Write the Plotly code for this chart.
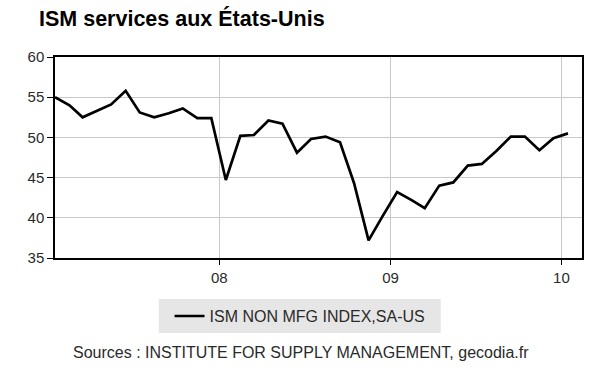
import plotly.graph_objects as go
import pandas as pd

dates = pd.date_range("2007-01-01", periods=37, freq="MS") + pd.Timedelta(days=14)
ism_values = [
    55.0, 54.0, 52.5, 53.3, 54.1, 55.8, 53.1, 52.5, 53.0, 53.6, 52.4, 52.4,
    44.7, 50.2, 50.3, 52.1, 51.7, 48.1, 49.8, 50.1, 49.4, 44.3, 37.2, 40.2,
    43.2, 42.2, 41.2, 44.0, 44.4, 46.5, 46.7, 48.3, 50.1, 50.1, 48.4, 49.9,
    50.5,
]
tick_vals = ["2008-01-01", "2009-01-01", "2010-01-01"]
tick_text = ["08", "09", "10"]
series_name = "ISM NON MFG INDEX,SA-US"

FONT = "Liberation Sans, Arial, sans-serif"
TXT = "#2a2a2a"

fig = go.Figure()
fig.add_trace(go.Scatter(
    x=dates, y=ism_values, mode="lines", name=series_name,
    line=dict(color="black", width=2.7),
    showlegend=True,
))

fig.update_layout(
    width=600, height=372,
    margin=dict(l=55, r=18, t=57, b=114, autoexpand=False),
    paper_bgcolor="white", plot_bgcolor="white",
    font=dict(family=FONT, size=15, color=TXT),
    title=dict(text="<b>ISM services aux États-Unis</b>", x=39/600, xanchor="left",
               y=1-18/372, yanchor="middle", font=dict(family=FONT, size=21.5, color="black")),
    showlegend=True,
    legend=dict(x=0.465, xanchor="center", y=-0.289, yanchor="middle",
                bgcolor="rgba(0,0,0,0)", font=dict(family=FONT, size=16, color=TXT)),
    shapes=[dict(type="rect", xref="paper", yref="paper",
                 x0=0.197, x1=0.732, y0=-0.373, y1=-0.204,
                 fillcolor="#e6e6e6", line=dict(width=0), layer="below")],
    annotations=[dict(text="Sources : INSTITUTE FOR SUPPLY MANAGEMENT, gecodia.fr",
                      xref="paper", yref="paper", x=0.466, y=-0.468,
                      xanchor="center", yanchor="middle", showarrow=False,
                      font=dict(family=FONT, size=16, color=TXT))],
)

fig.update_xaxes(
    range=["2007-01-15", "2010-02-14"],
    tickvals=tick_vals, ticktext=tick_text,
    showgrid=True, gridcolor="#c8c8c8", gridwidth=1,
    showline=True, linecolor="black", linewidth=1.5, mirror=True,
    ticks="outside", ticklen=5, tickcolor="black",
    tickfont=dict(family=FONT, size=15, color=TXT),
    zeroline=False,
)
fig.update_yaxes(
    range=[35, 60], tickvals=[35, 40, 45, 50, 55, 60],
    showgrid=True, gridcolor="#c8c8c8", gridwidth=1,
    showline=True, linecolor="black", linewidth=1.5, mirror=True,
    ticks="outside", ticklen=6, tickcolor="black",
    tickfont=dict(family=FONT, size=15, color=TXT),
    zeroline=False,
)

fig.write_html("out.html",
               config={"displayModeBar": False},
               post_script="document.body.style.margin='0';document.body.style.overflow='hidden';")
